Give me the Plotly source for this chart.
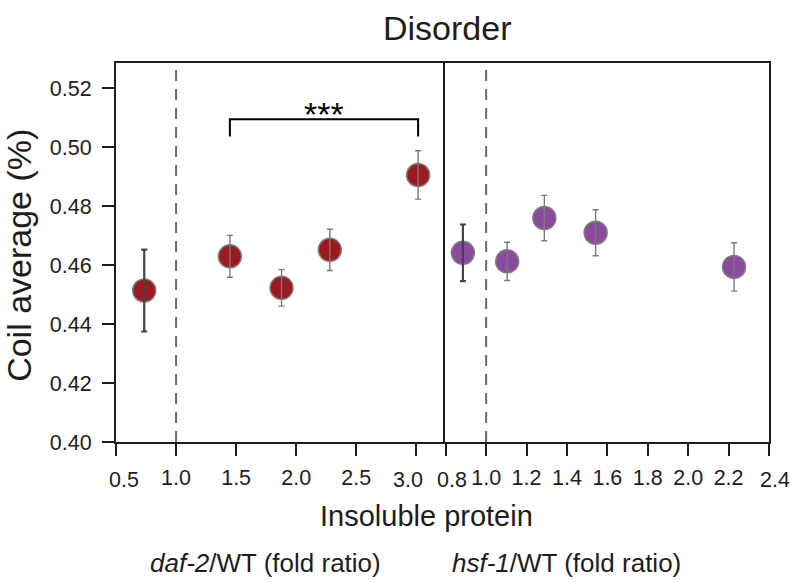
import plotly.graph_objects as go

# ---- data ----
daf_x = [0.735, 1.448, 1.878, 2.280, 3.015]
daf_y = [0.4514, 0.4630, 0.4523, 0.4652, 0.4906]
daf_err = [0.0139, 0.0071, 0.0062, 0.0070, 0.0082]

hsf_x = [0.885, 1.104, 1.288, 1.542, 2.227]
hsf_y = [0.4642, 0.4613, 0.4760, 0.4710, 0.4594]
hsf_err = [0.0096, 0.0065, 0.0077, 0.0078, 0.0082]

daf_ticks = [0.5, 1.0, 1.5, 2.0, 2.5, 3.0]
hsf_ticks = [0.8, 1.0, 1.2, 1.4, 1.6, 1.8, 2.0, 2.2, 2.4]
y_ticks = [0.40, 0.42, 0.44, 0.46, 0.48, 0.50, 0.52]

# end labels nudged inward (as in the original figure): (axis, value, pixel shift)
end_labels = [("x", 0.5, 8), ("x", 3.0, -8), ("x2", 0.8, 6), ("x2", 2.4, 6)]

sig_pair = (1, 4)          # indices in daf series compared
sig_label = "***"
bracket_top = 0.5095
bracket_low = 0.5037

FONT = "Liberation Sans, Arial, Helvetica, sans-serif"
INK = "#1f1c1d"
RED = "#9c1a1f"
PURPLE = "#8c4a9f"
EDGE = "#7d7d7d"
TICK_SIZE = 21.5

fig = go.Figure()


def add_series(xs, ys, errs, color, xa, ya):
    fig.add_trace(go.Scatter(
        x=xs, y=ys, mode="markers", xaxis=xa, yaxis=ya, showlegend=False,
        marker=dict(size=23, color=color, line=dict(color=EDGE, width=1.5)),
    ))
    # first point: darker, thicker bar
    fig.add_trace(go.Scatter(
        x=xs[:1], y=ys[:1], mode="markers", xaxis=xa, yaxis=ya, showlegend=False,
        marker=dict(size=1, opacity=0),
        error_y=dict(type="data", array=errs[:1], color="#444444", thickness=2.2, width=3),
    ))
    fig.add_trace(go.Scatter(
        x=xs[1:], y=ys[1:], mode="markers", xaxis=xa, yaxis=ya, showlegend=False,
        marker=dict(size=1, opacity=0),
        error_y=dict(type="data", array=errs[1:], color="#7a7a7a", thickness=1.4, width=3),
    ))


add_series(daf_x, daf_y, daf_err, RED, "x", "y")
add_series(hsf_x, hsf_y, hsf_err, PURPLE, "x2", "y2")

# dashed reference lines at ratio 1.0
for xr in ("x", "x2"):
    fig.add_shape(type="line", xref=xr, yref="y domain", x0=1.0, x1=1.0, y0=0, y1=1,
                  line=dict(color="#6a6a6a", width=2, dash="11px,8px"), layer="below")

# significance bracket
xa_, xb_ = daf_x[sig_pair[0]], daf_x[sig_pair[1]]
fig.add_shape(type="path", xref="x", yref="y",
              path=f"M {xa_},{bracket_low} L {xa_},{bracket_top} L {xb_},{bracket_top} L {xb_},{bracket_low}",
              line=dict(color="black", width=2))
fig.add_annotation(x=(xa_ + xb_) / 2, y=bracket_top, xref="x", yref="y", text=sig_label,
                   showarrow=False, yanchor="middle", yshift=5,
                   font=dict(size=34, color="black", family=FONT))

axis_common = dict(showgrid=False, zeroline=False, showline=True, linewidth=2, linecolor=INK,
                   mirror=True, ticks="outside", ticklen=12, tickwidth=2, tickcolor=INK,
                   automargin=False,
                   tickfont=dict(size=TICK_SIZE, color=INK, family=FONT))


def tick_text(vals, axis):
    shifted = {v for a, v, _ in end_labels if a == axis}
    return ["" if v in shifted else f"{v:.1f}" for v in vals]


fig.update_layout(
    width=790, height=582,
    margin=dict(l=116, r=21, t=63, b=140),
    paper_bgcolor="white", plot_bgcolor="white",
    xaxis=dict(domain=[0, 0.5], range=[0.5, 3.218], tickvals=daf_ticks,
               ticktext=tick_text(daf_ticks, "x"), anchor="y", ticklabelstandoff=3,
               **axis_common),
    xaxis2=dict(domain=[0.5, 1.0], range=[0.784, 2.4], tickvals=hsf_ticks,
                ticktext=tick_text(hsf_ticks, "x2"), anchor="y2", ticklabelstandoff=3,
                **axis_common),
    yaxis=dict(range=[0.40, 0.5286], tickvals=y_ticks,
               ticktext=[f"{v:.2f}" for v in y_ticks], anchor="x", ticklabelstandoff=6,
               **axis_common),
    yaxis2=dict(range=[0.40, 0.5286], anchor="x2", matches="y", side="right",
                showticklabels=False, showgrid=False, zeroline=False,
                showline=True, linewidth=2, linecolor=INK, mirror=False, ticks=""),
)

for axis, v, shift in end_labels:
    fig.add_annotation(text=f"{v:.1f}", x=v, xref=axis, y=-0.1003, yref="paper",
                       showarrow=False, xanchor="center", yanchor="middle", xshift=shift,
                       font=dict(size=TICK_SIZE, color=INK, family=FONT))

texts = [
    dict(text="Disorder", x=0.507, y=1.092, size=34),
    dict(text="Insoluble protein", x=0.475, y=-0.195, size=29),
    dict(text="<i>daf-2</i>/WT (fold ratio)", x=0.229, y=-0.319, size=26),
    dict(text="<i>hsf-1</i>/WT (fold ratio)", x=0.690, y=-0.319, size=26),
]
for t in texts:
    fig.add_annotation(text=t["text"], x=t["x"], y=t["y"], xref="paper", yref="paper",
                       showarrow=False, xanchor="center", yanchor="middle",
                       font=dict(size=t["size"], color=INK, family=FONT))
fig.add_annotation(text="Coil average (%)", x=-0.149, y=0.493, xref="paper", yref="paper",
                   showarrow=False, textangle=-90, xanchor="center", yanchor="middle",
                   font=dict(size=34, color=INK, family=FONT))

fig.write_html("out.html", config={"displayModeBar": False},
               post_script="document.body.style.margin='0';document.body.style.overflow='hidden';")
